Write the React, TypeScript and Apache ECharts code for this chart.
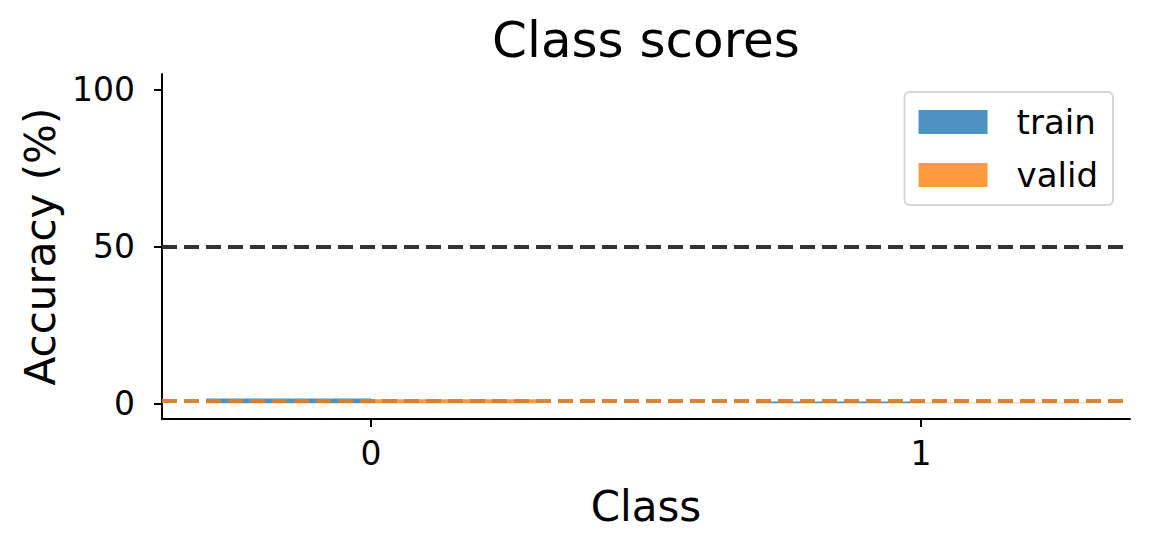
import React, { useEffect, useRef } from "react";
import * as echarts from "echarts";

const classes = [0, 1];
const trainAcc = [1.5, 0.6];
const validAcc = [1.3, 0.2];
const trainMean = 0.9;
const validMean = 0.75;
const chanceLevel = 50;
const yTicks = [0, 50, 100];
const xTicks = [0, 1];

const FONT = "DejaVu Sans";
const BLUE = "rgba(31,119,180,0.8)";
const ORANGE = "rgba(255,127,14,0.8)";

function barRenderer(offset: number, fill: string) {
  return (params: any, api: any) => {
    const x = api.value(0);
    const v = api.value(1);
    const p0 = api.coord([x + offset, v]);
    const p1 = api.coord([x + offset + 0.3, 0]);
    return {
      type: "rect",
      shape: { x: p0[0], y: p0[1], width: p1[0] - p0[0], height: p1[1] - p0[1] },
      style: { fill },
    };
  };
}

export default function App() {
  const ref = useRef<HTMLDivElement>(null);
  useEffect(() => {
    if (!ref.current) return;
    const chart = echarts.init(ref.current, null, { renderer: "svg" });
    const dashed = { type: [15, 7], width: 4 };
    chart.setOption({
      animation: false,
      textStyle: { fontFamily: FONT },
      graphic: [
        {
          type: "text",
          x: 646,
          y: 15,
          style: {
            text: "Class scores",
            fontFamily: FONT,
            fontSize: 50,
            fill: "#000",
            textAlign: "center",
            textVerticalAlign: "top",
          },
        },
      ],
      legend: {
        data: ["train", "valid"],
        orient: "vertical",
        right: 37,
        top: 92,
        icon: "rect",
        itemWidth: 69,
        itemHeight: 24,
        itemGap: 19,
        padding: [13, 15, 13, 14],
        borderColor: "#d6d6d6",
        borderWidth: 2,
        borderRadius: 5,
        backgroundColor: "rgba(255,255,255,0.8)",
        textStyle: { fontFamily: FONT, fontSize: 34, lineHeight: 34, color: "#000", padding: [0, 0, 0, 24] },
      },
      grid: { left: 162, right: 20, top: 74, bottom: 131, containLabel: false },
      xAxis: {
        type: "value",
        min: -0.38,
        max: 1.38,
        name: "Class",
        nameLocation: "middle",
        nameGap: 66,
        nameTextStyle: { fontFamily: FONT, fontSize: 42, color: "#000" },
        axisLine: { show: true, onZero: false, lineStyle: { color: "#000", width: 2 } },
        axisTick: { show: true, length: 8, lineStyle: { color: "#000", width: 2 }, customValues: xTicks },
        axisLabel: { fontFamily: FONT, fontSize: 33, color: "#000", margin: 18, customValues: xTicks },
        splitLine: { show: false },
      },
      yAxis: {
        type: "value",
        min: -5,
        max: 105,
        name: "Accuracy (%)",
        nameLocation: "middle",
        nameGap: 100,
        nameTextStyle: { fontFamily: FONT, fontSize: 42, color: "#000" },
        axisLine: { show: true, onZero: false, lineStyle: { color: "#000", width: 2 } },
        axisTick: { show: true, length: 8, lineStyle: { color: "#000", width: 2 }, customValues: yTicks },
        axisLabel: { fontFamily: FONT, fontSize: 33, color: "#000", margin: 27, customValues: yTicks },
        splitLine: { show: false },
      },
      series: [
        {
          name: "train",
          type: "custom",
          renderItem: barRenderer(-0.3, BLUE),
          itemStyle: { color: BLUE },
          data: classes.map((c, i) => [c, trainAcc[i]]),
          z: 2,
        },
        {
          name: "valid",
          type: "custom",
          renderItem: barRenderer(0, ORANGE),
          itemStyle: { color: ORANGE },
          data: classes.map((c, i) => [c, validAcc[i]]),
          z: 2,
        },
        {
          name: "lines",
          type: "line",
          data: [],
          z: 5,
          markLine: {
            silent: true,
            symbol: "none",
            label: { show: false },
            data: [
              { yAxis: chanceLevel, lineStyle: { color: "#333", ...dashed } },
              { yAxis: trainMean, lineStyle: { color: BLUE, ...dashed } },
              { yAxis: validMean, lineStyle: { color: ORANGE, ...dashed } },
            ],
          },
        },
      ],
    });
    return () => chart.dispose();
  }, []);
  return <div ref={ref} style={{ position: "absolute", left: 0, top: 0, width: 1150, height: 550 }} />;
}
